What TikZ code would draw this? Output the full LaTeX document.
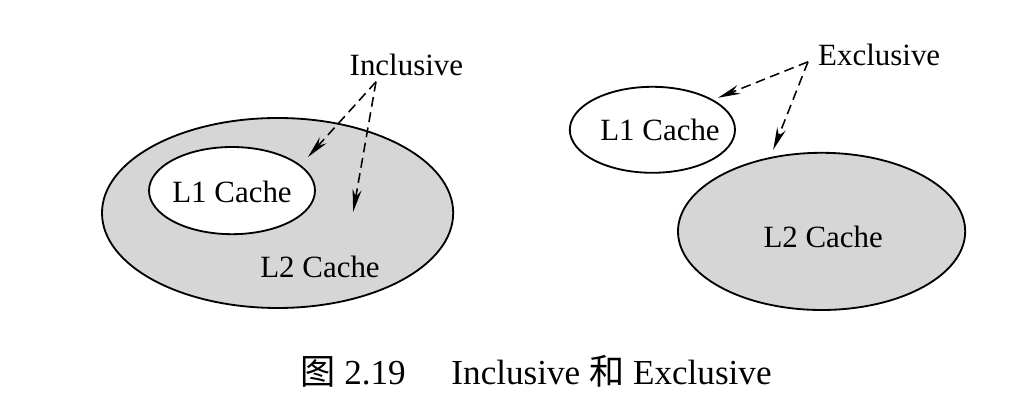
\documentclass[tikz,border=0pt]{standalone}
\usepackage{fontspec}
\setmainfont{Liberation Serif}
\newfontfamily\cjk{Noto Sans CJK SC}
\usetikzlibrary{shapes.geometric,arrows.meta}

\begin{document}
\begin{tikzpicture}[font=\fontsize{22}{26}\selectfont,
  cache/.style={draw,ellipse,line width=1.3pt,inner sep=0pt},
  ptr/.style={dash pattern=on 7pt off 4pt,line width=1.1pt,-{Stealth[length=16pt,width=6.5pt]}}]
\useasboundingbox (0,0) rectangle (25.6,10.225);
% inclusive
\node[cache,fill=gray!32,minimum width=8.78cm,minimum height=4.75cm] (l2a) at (6.94,4.9) {};
\node[cache,fill=white,minimum width=4.15cm,minimum height=2.18cm] (l1a) at (5.8,5.46) {};
\node (t1a) at (5.8,5.43) {L1 Cache};
\node (t2a) at (8.0,3.55) {L2 Cache};
\node (inc) at (10.16,8.6) {Inclusive};
\coordinate (sa) at (9.4,8.18);
\coordinate (h1a) at (7.7,6.3);
\coordinate (h2a) at (8.83,4.93);
\draw[ptr] (sa) -- (h1a);
\draw[ptr] (sa) -- (h2a);
% exclusive
\node[cache,fill=white,minimum width=4.13cm,minimum height=2.15cm] (l1b) at (16.31,6.98) {};
\node[cache,fill=gray!32,minimum width=7.18cm,minimum height=3.93cm] (l2b) at (20.54,4.44) {};
\node (t1b) at (16.5,6.98) {L1 Cache};
\node (t2b) at (20.58,4.3) {L2 Cache};
\node (exc) at (21.98,8.85) {Exclusive};
\coordinate (sb) at (20.2,8.68);
\coordinate (h1b) at (17.95,7.78);
\coordinate (h2b) at (19.33,6.48);
\draw[ptr] (sb) -- (h1b);
\draw[ptr] (sb) -- (h2b);
% caption
\node (cap) at (13.4,0.93) {\fontsize{25}{29}\selectfont{\cjk 图} 2.19\hspace{1.3em}Inclusive {\cjk 和} Exclusive};
\end{tikzpicture}
\end{document}
